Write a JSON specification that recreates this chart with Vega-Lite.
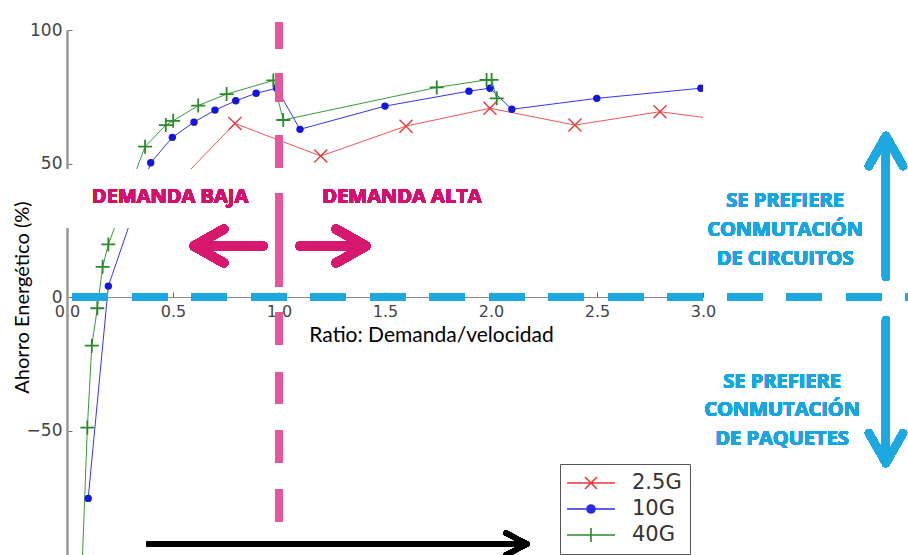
{
  "$schema": "https://vega.github.io/schema/vega-lite/v6.json",
  "width": 636,
  "height": 525,
  "autosize": "none",
  "padding": {"left": 67, "top": 30, "right": 205, "bottom": 0},
  "background": "white",
  "config": {"view": {"stroke": null}},
  "datasets": {
    "curvas": [
      {"series": "2.5G", "x": 0.44, "y": 36},
      {"series": "2.5G", "x": 0.792, "y": 65.0},
      {"series": "2.5G", "x": 1.197, "y": 52.8},
      {"series": "2.5G", "x": 1.599, "y": 64.0},
      {"series": "2.5G", "x": 1.995, "y": 70.7},
      {"series": "2.5G", "x": 2.396, "y": 64.4},
      {"series": "2.5G", "x": 2.797, "y": 69.4},
      {"series": "2.5G", "x": 3.2, "y": 65.2},
      {"series": "10G", "x": 0.100, "y": -75.4},
      {"series": "10G", "x": 0.195, "y": 4.1},
      {"series": "10G", "x": 0.395, "y": 50.3},
      {"series": "10G", "x": 0.497, "y": 59.8},
      {"series": "10G", "x": 0.599, "y": 65.5},
      {"series": "10G", "x": 0.698, "y": 70.0},
      {"series": "10G", "x": 0.796, "y": 73.5},
      {"series": "10G", "x": 0.892, "y": 76.3},
      {"series": "10G", "x": 0.989, "y": 78.2},
      {"series": "10G", "x": 1.099, "y": 62.8},
      {"series": "10G", "x": 1.5, "y": 71.5},
      {"series": "10G", "x": 1.896, "y": 77.1},
      {"series": "10G", "x": 1.995, "y": 78.2},
      {"series": "10G", "x": 2.098, "y": 70.3},
      {"series": "10G", "x": 2.499, "y": 74.4},
      {"series": "10G", "x": 2.99, "y": 78.2},
      {"series": "40G", "x": 0.066, "y": -112},
      {"series": "40G", "x": 0.096, "y": -48.9},
      {"series": "40G", "x": 0.117, "y": -18.2},
      {"series": "40G", "x": 0.143, "y": -4.2},
      {"series": "40G", "x": 0.168, "y": 11.3},
      {"series": "40G", "x": 0.195, "y": 19.7},
      {"series": "40G", "x": 0.368, "y": 56.3},
      {"series": "40G", "x": 0.466, "y": 64.4},
      {"series": "40G", "x": 0.501, "y": 66.0},
      {"series": "40G", "x": 0.619, "y": 71.7},
      {"series": "40G", "x": 0.753, "y": 76.0},
      {"series": "40G", "x": 0.973, "y": 81.1},
      {"series": "40G", "x": 1.020, "y": 66.3},
      {"series": "40G", "x": 1.744, "y": 78.5},
      {"series": "40G", "x": 1.979, "y": 81.3},
      {"series": "40G", "x": 2.003, "y": 81.3},
      {"series": "40G", "x": 2.027, "y": 74.4}
    ]
  },
  "data": {"name": "curvas"},
  "layer": [
    {
      "mark": {"type": "line", "strokeWidth": 1, "clip": true},
      "encoding": {
        "x": {
          "field": "x", "type": "quantitative",
          "scale": {"domain": [0, 3], "nice": false, "zero": false},
          "axis": {
            "values": [0, 0.5, 1, 1.5, 2, 2.5, 3], "format": ".1f", "offset": -258, "grid": false,
            "tickSize": -5, "labelPadding": 11, "labelFlush": false,
            "labelFont": "DejaVu Sans", "labelFontSize": 16, "labelColor": "#444",
            "domainColor": "#8a8a8a", "tickColor": "#666",
            "title": "Ratio: Demanda/velocidad", "titleFont": "Lato", "titleFontSize": 21,
            "titleFontWeight": "normal", "titleColor": "#000", "titleX": 364, "titleY": 38,
            "titleAlign": "center", "titleBaseline": "middle"
          }
        },
        "y": {
          "field": "y", "type": "quantitative",
          "scale": {"domain": [-96.6, 100], "nice": false, "zero": false},
          "axis": {
            "values": [-50, 0, 50, 100], "grid": false, "tickSize": -5, "labelPadding": 10,
            "labelFont": "DejaVu Sans", "labelFontSize": 17, "labelColor": "#444",
            "domainColor": "#999", "domainWidth": 2.5, "tickColor": "#777",
            "title": "Ahorro Energético (%)", "titleFont": "Lato", "titleFontSize": 20,
            "titleFontWeight": "normal", "titleColor": "#000", "titleX": -45, "titleY": 267,
            "titleAngle": -90, "titleAlign": "center", "titleBaseline": "middle"
          }
        },
        "color": {
          "field": "series", "type": "nominal",
          "scale": {"domain": ["40G", "10G", "2.5G"], "range": ["#3A9A3A", "#3535EE", "#EE5555"]},
          "legend": null
        }
      }
    },
    {
      "transform": [{"filter": "datum.series === '2.5G'"}],
      "mark": {"type": "point", "shape": "M-1,-1L1,1M-1,1L1,-1", "size": 169, "filled": false, "stroke": "#E83A3A", "strokeWidth": 1.4, "opacity": 1, "clip": true},
      "encoding": {"x": {"field": "x", "type": "quantitative"}, "y": {"field": "y", "type": "quantitative"}}
    },
    {
      "transform": [{"filter": "datum.series === '10G'"}],
      "mark": {"type": "point", "shape": "circle", "size": 55, "filled": true, "color": "#1414DD", "opacity": 1, "clip": true},
      "encoding": {"x": {"field": "x", "type": "quantitative"}, "y": {"field": "y", "type": "quantitative"}}
    },
    {
      "transform": [{"filter": "datum.series === '40G'"}],
      "mark": {"type": "point", "shape": "M-1,0L1,0M0,-1L0,1", "size": 196, "filled": false, "stroke": "#2A8A2A", "strokeWidth": 1.8, "opacity": 1, "clip": true},
      "encoding": {"x": {"field": "x", "type": "quantitative"}, "y": {"field": "y", "type": "quantitative"}}
    },
    {
      "transform": [{"filter": "datum.x > 3"}],
      "mark": {"type": "point", "filled": false, "strokeWidth": 1.3, "opacity": 1, "clip": true},
      "encoding": {
        "x": {"field": "x", "type": "quantitative"},
        "y": {"field": "y", "type": "quantitative"},
        "shape": {
          "field": "series", "type": "nominal",
          "scale": {"domain": ["2.5G", "10G", "40G"], "range": [
            "M-2.4,0L2.4,0M-0.6,-0.6L0.6,0.6M-0.6,0.6L0.6,-0.6",
            "M-2.4,0L2.4,0M-0.4,0A0.4,0.4,0,1,0,0.4,0A0.4,0.4,0,1,0,-0.4,0M-0.25,0A0.25,0.25,0,1,0,0.25,0A0.25,0.25,0,1,0,-0.25,0M-0.1,0A0.1,0.1,0,1,0,0.1,0A0.1,0.1,0,1,0,-0.1,0",
            "M-2.4,0L2.4,0M-0.7,0L0.7,0M0,-0.7L0,0.7"
          ]},
          "legend": {"orient": "none", "legendX": 493, "legendY": 434, "title": null, "padding": 8, "symbolOffset": 12, "symbolSize": 400, "symbolStrokeWidth": 1.6, "labelOffset": 30, "labelFont": "DejaVu Sans", "labelFontSize": 21, "labelColor": "#333", "rowPadding": 5, "strokeColor": "#555", "fillColor": "white"}
        },
        "stroke": {
          "field": "series", "type": "nominal",
          "scale": {"domain": ["2.5G", "10G", "40G"], "range": ["#E83A3A", "#2A2AE8", "#2A8A2A"]},
          "legend": {"orient": "none", "legendX": 493, "legendY": 434, "title": null, "padding": 8, "symbolOffset": 12, "symbolSize": 400, "symbolStrokeWidth": 1.6, "labelOffset": 30, "labelFont": "DejaVu Sans", "labelFontSize": 21, "labelColor": "#333", "rowPadding": 5, "strokeColor": "#555", "fillColor": "white"}
        }
      }
    },
    {
      "mark": {"type": "rect", "color": "white"},
      "encoding": {"x": {"datum": -0.1}, "x2": {"datum": 3.0}, "y": {"datum": 26.1}, "y2": {"datum": 47.8}}
    },
    {
      "mark": {"type": "rule", "color": "#E5579B", "strokeWidth": 8, "strokeDash": [27, 24, 29, 33, 33, 25, 94, 25, 33, 27, 32, 26, 33, 26, 33]},
      "encoding": {"x": {"datum": 1}, "y": {"datum": 103.0}, "y2": {"datum": -84.3}}
    },
    {
      "mark": {"type": "rule", "color": "#1DA8E0", "strokeWidth": 8, "strokeDash": [35, 24.5]},
      "encoding": {"y": {"datum": 0}, "x": {"datum": 0.028}, "x2": {"datum": 3.98}}
    },
    {
      "mark": {"type": "text", "font": "Open Sans", "fontWeight": "bold", "fontSize": 20, "color": "#D4106E", "align": "center", "baseline": "middle"},
      "encoding": {"x": {"datum": 0.486}, "y": {"datum": 37.4}, "text": {"value": "DEMANDA BAJA"}}
    },
    {
      "mark": {"type": "text", "font": "Open Sans", "fontWeight": "bold", "fontSize": 20, "color": "#D4106E", "align": "center", "baseline": "middle"},
      "encoding": {"x": {"datum": 1.58}, "y": {"datum": 37.4}, "text": {"value": "DEMANDA ALTA"}}
    },
    {
      "mark": {"type": "text", "font": "Open Sans", "fontWeight": "bold", "fontSize": 20, "color": "#18A6E0", "align": "center", "baseline": "middle", "lineHeight": 29},
      "encoding": {"x": {"datum": 3.387}, "y": {"datum": 35.95}, "text": {"value": ["SE PREFIERE", "CONMUTACIÓN", "DE CIRCUITOS"]}}
    },
    {
      "mark": {"type": "text", "font": "Open Sans", "fontWeight": "bold", "fontSize": 20, "color": "#18A6E0", "align": "center", "baseline": "middle", "lineHeight": 28.5},
      "encoding": {"x": {"datum": 3.373}, "y": {"datum": -31.8}, "text": {"value": ["SE PREFIERE", "CONMUTACIÓN", "DE PAQUETES"]}}
    },
    {
      "mark": {"type": "rule", "color": "#1DA8E0", "strokeWidth": 8, "strokeCap": "round"},
      "encoding": {"x": {"datum": 3.863}, "y": {"datum": 60.3}, "y2": {"datum": 7.5}}
    },
    {
      "mark": {"type": "rule", "color": "#1DA8E0", "strokeWidth": 8, "strokeCap": "round"},
      "encoding": {"x": {"datum": 3.863}, "y": {"datum": -8.6}, "y2": {"datum": -62.2}}
    },
    {
      "mark": {"type": "point", "shape": "M-17,30L0,0L17,30", "size": 4, "filled": false, "stroke": "#1DA8E0", "strokeWidth": 8, "strokeCap": "round", "strokeJoin": "round", "opacity": 1},
      "encoding": {"x": {"datum": 3.863}, "y": {"datum": 60.3}}
    },
    {
      "mark": {"type": "point", "shape": "M-17,-30L0,0L17,-30", "size": 4, "filled": false, "stroke": "#1DA8E0", "strokeWidth": 8, "strokeCap": "round", "strokeJoin": "round", "opacity": 1},
      "encoding": {"x": {"datum": 3.863}, "y": {"datum": -62.2}}
    },
    {
      "mark": {"type": "rule", "color": "#D6186F", "strokeWidth": 9, "strokeCap": "round"},
      "encoding": {"y": {"datum": 19.1}, "x": {"datum": 0.599}, "x2": {"datum": 0.925}}
    },
    {
      "mark": {"type": "point", "shape": "M30,-17L0,0L30,17", "size": 4, "filled": false, "stroke": "#D6186F", "strokeWidth": 9, "strokeCap": "round", "strokeJoin": "round", "opacity": 1},
      "encoding": {"x": {"datum": 0.599}, "y": {"datum": 19.1}}
    },
    {
      "mark": {"type": "rule", "color": "#D6186F", "strokeWidth": 9, "strokeCap": "round"},
      "encoding": {"y": {"datum": 19.1}, "x": {"datum": 1.099}, "x2": {"datum": 1.41}}
    },
    {
      "mark": {"type": "point", "shape": "M-30,-17L0,0L-30,17", "size": 4, "filled": false, "stroke": "#D6186F", "strokeWidth": 9, "strokeCap": "round", "strokeJoin": "round", "opacity": 1},
      "encoding": {"x": {"datum": 1.41}, "y": {"datum": 19.1}}
    },
    {
      "mark": {"type": "rule", "color": "#000000", "strokeWidth": 5},
      "encoding": {"y": {"datum": -92.5}, "x": {"datum": 0.377}, "x2": {"datum": 2.168}}
    },
    {
      "mark": {"type": "point", "shape": "M-21,-11L0,0L-21,11", "size": 4, "filled": false, "stroke": "#000000", "strokeWidth": 5, "strokeCap": "round", "strokeJoin": "round", "opacity": 1},
      "encoding": {"x": {"datum": 2.17}, "y": {"datum": -92.5}}
    }
  ]
}
